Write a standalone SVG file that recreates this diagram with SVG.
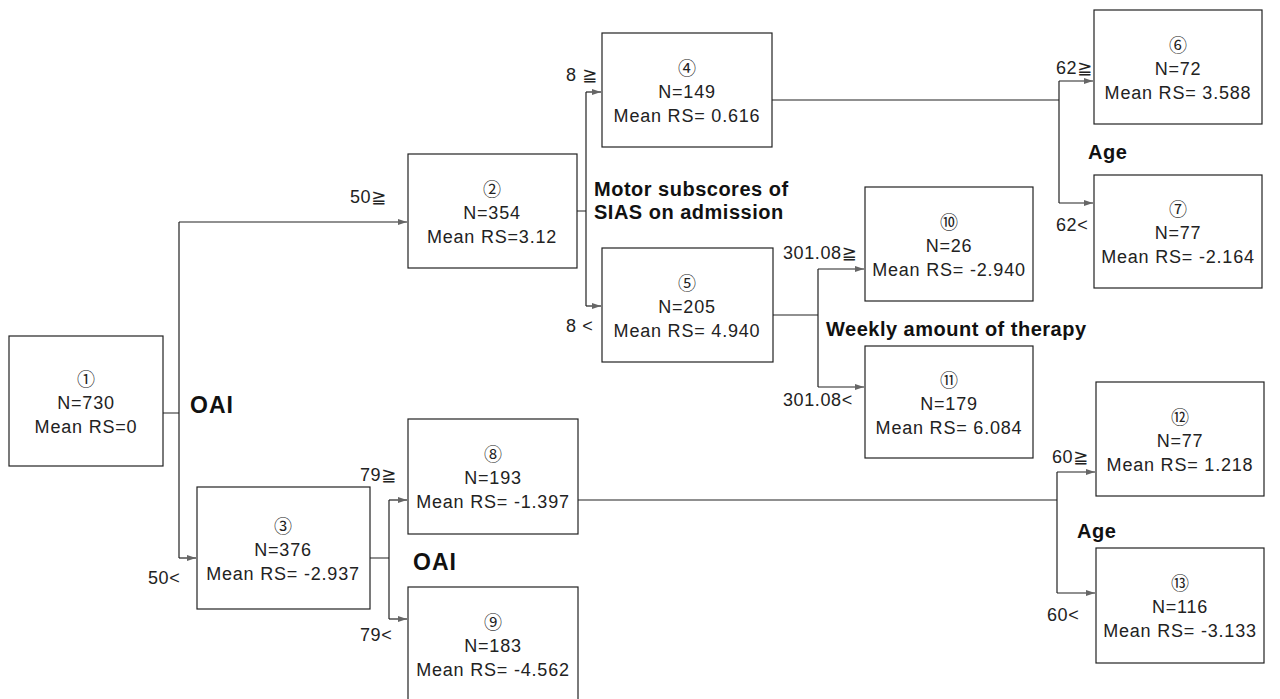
<svg xmlns="http://www.w3.org/2000/svg" width="1280" height="699" viewBox="0 0 1280 699">
<style>
.box{fill:#fff;stroke:#222;stroke-width:1.2}
.t{font-family:"Liberation Sans","DejaVu Sans",sans-serif;font-size:18px;fill:#222;text-anchor:middle;letter-spacing:0.8px}
.c{font-family:"Noto Sans CJK JP","DejaVu Sans",sans-serif;font-size:18px;fill:#222;text-anchor:middle}
.lab{font-family:"Liberation Sans","DejaVu Sans",sans-serif;font-size:18px;fill:#222;letter-spacing:0.6px}
.b{font-family:"Liberation Sans","DejaVu Sans",sans-serif;font-size:20px;font-weight:bold;fill:#111;letter-spacing:0.5px}
.oai{font-family:"Liberation Sans","DejaVu Sans",sans-serif;font-size:23px;font-weight:bold;fill:#111;letter-spacing:1px}
.ln{fill:none;stroke:#222;stroke-width:1.2}
</style>
<defs>
<marker id="ah" markerWidth="9" markerHeight="8" refX="9" refY="4" orient="auto" markerUnits="userSpaceOnUse">
<path d="M0,1 L9,4 L0,7 Z" fill="#666"/>
</marker>
</defs>
<rect width="1280" height="699" fill="#fff"/>
<g id="connectors">
<path class="ln" d="M163,413 H179 M179,222 V558"/>
<path class="ln" d="M179,222 H407" marker-end="url(#ah)"/>
<path class="ln" d="M179,558 H196" marker-end="url(#ah)"/>
<path class="ln" d="M577,211 H586 M586,92 V306"/>
<path class="ln" d="M586,92 H601" marker-end="url(#ah)"/>
<path class="ln" d="M586,306 H601" marker-end="url(#ah)"/>
<path class="ln" d="M772,100 H1059 M1059,81 V203"/>
<path class="ln" d="M1059,81 H1093" marker-end="url(#ah)"/>
<path class="ln" d="M1059,203 H1093" marker-end="url(#ah)"/>
<path class="ln" d="M773,315 H818 M818,269 V387"/>
<path class="ln" d="M818,269 H864" marker-end="url(#ah)"/>
<path class="ln" d="M818,387 H864" marker-end="url(#ah)"/>
<path class="ln" d="M370,558 H389 M389,500 V619"/>
<path class="ln" d="M389,500 H407" marker-end="url(#ah)"/>
<path class="ln" d="M389,619 H407" marker-end="url(#ah)"/>
<path class="ln" d="M578,500 H1057 M1057,472 V593"/>
<path class="ln" d="M1057,472 H1095" marker-end="url(#ah)"/>
<path class="ln" d="M1057,593 H1095" marker-end="url(#ah)"/>
</g>
<g id="labels">
<text class="oai" x="190" y="413">OAI</text>
<text class="oai" x="413" y="570">OAI</text>
<text class="b" x="594" y="196">Motor subscores of</text>
<text class="b" x="594" y="219">SIAS on admission</text>
<text class="b" x="826" y="336">Weekly amount of therapy</text>
<text class="b" x="1088" y="159">Age</text>
<text class="b" x="1077" y="538">Age</text>
<text class="lab" x="350" y="203">50≧</text>
<text class="lab" x="148" y="584">50&lt;</text>
<text class="lab" x="360" y="481">79≧</text>
<text class="lab" x="360" y="641">79&lt;</text>
<text class="lab" x="566" y="81">8 ≧</text>
<text class="lab" x="566" y="332">8 &lt;</text>
<text class="lab" x="1056" y="74">62≧</text>
<text class="lab" x="1056" y="231">62&lt;</text>
<text class="lab" x="1052" y="463">60≧</text>
<text class="lab" x="1047" y="621">60&lt;</text>
<text class="lab" x="783" y="259">301.08≧</text>
<text class="lab" x="783" y="406">301.08&lt;</text>
</g>
<g id="node1"><rect class="box" x="9" y="336" width="154" height="130"/><text class="c" x="86" y="386">①</text><text class="t" x="86" y="409">N=730</text><text class="t" x="86" y="433">Mean RS=0</text></g>
<g id="node2"><rect class="box" x="408" y="154" width="169" height="114"/><text class="c" x="492" y="196">②</text><text class="t" x="492" y="219">N=354</text><text class="t" x="492" y="243">Mean RS=3.12</text></g>
<g id="node3"><rect class="box" x="197" y="487" width="173" height="122"/><text class="c" x="283" y="533">③</text><text class="t" x="283" y="556">N=376</text><text class="t" x="283" y="580">Mean RS= -2.937</text></g>
<g id="node4"><rect class="box" x="602" y="33" width="170" height="114"/><text class="c" x="687" y="75">④</text><text class="t" x="687" y="98">N=149</text><text class="t" x="687" y="122">Mean RS= 0.616</text></g>
<g id="node5"><rect class="box" x="602" y="248" width="171" height="114"/><text class="c" x="687" y="290">⑤</text><text class="t" x="687" y="313">N=205</text><text class="t" x="687" y="337">Mean RS= 4.940</text></g>
<g id="node6"><rect class="box" x="1094" y="10" width="168" height="114"/><text class="c" x="1178" y="52">⑥</text><text class="t" x="1178" y="75">N=72</text><text class="t" x="1178" y="99">Mean RS= 3.588</text></g>
<g id="node7"><rect class="box" x="1094" y="175" width="168" height="113"/><text class="c" x="1178" y="216">⑦</text><text class="t" x="1178" y="239">N=77</text><text class="t" x="1178" y="263">Mean RS= -2.164</text></g>
<g id="node8"><rect class="box" x="408" y="419" width="170" height="115"/><text class="c" x="493" y="461">⑧</text><text class="t" x="493" y="484">N=193</text><text class="t" x="493" y="508">Mean RS= -1.397</text></g>
<g id="node9"><rect class="box" x="408" y="587" width="170" height="125"/><text class="c" x="493" y="629">⑨</text><text class="t" x="493" y="652">N=183</text><text class="t" x="493" y="676">Mean RS= -4.562</text></g>
<g id="node10"><rect class="box" x="865" y="187" width="168" height="114"/><text class="c" x="949" y="229">⑩</text><text class="t" x="949" y="252">N=26</text><text class="t" x="949" y="276">Mean RS= -2.940</text></g>
<g id="node11"><rect class="box" x="865" y="346" width="168" height="112"/><text class="c" x="949" y="387">⑪</text><text class="t" x="949" y="410">N=179</text><text class="t" x="949" y="434">Mean RS= 6.084</text></g>
<g id="node12"><rect class="box" x="1096" y="382" width="168" height="114"/><text class="c" x="1180" y="424">⑫</text><text class="t" x="1180" y="447">N=77</text><text class="t" x="1180" y="471">Mean RS= 1.218</text></g>
<g id="node13"><rect class="box" x="1096" y="548" width="168" height="115"/><text class="c" x="1180" y="590">⑬</text><text class="t" x="1180" y="613">N=116</text><text class="t" x="1180" y="637">Mean RS= -3.133</text></g>
</svg>
